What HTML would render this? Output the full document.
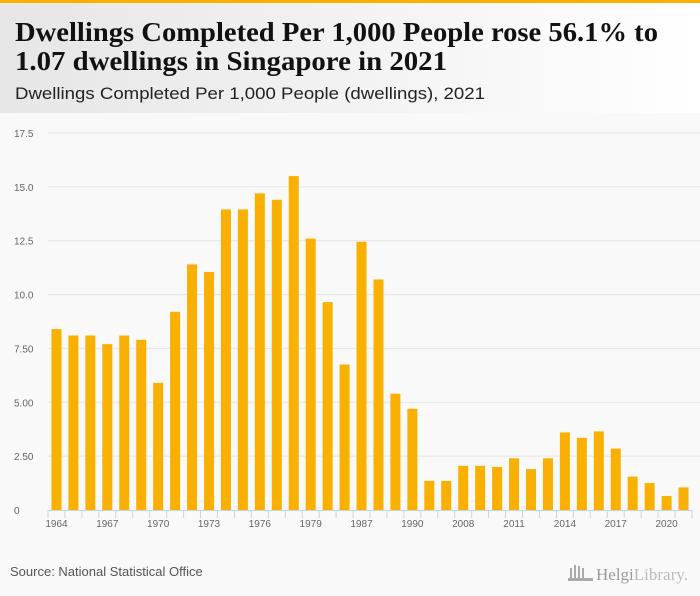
<!DOCTYPE html>
<html><head><meta charset="utf-8"><style>
html,body{margin:0;padding:0;width:700px;height:596px;overflow:hidden;background:#f9f9f9;font-family:"Liberation Sans",sans-serif}
</style></head><body>
<svg width="700" height="596" xmlns="http://www.w3.org/2000/svg">
<defs><linearGradient id="hg" x1="0" x2="1"><stop offset="0" stop-color="#e6e6e6"/><stop offset="1" stop-color="#ffffff"/></linearGradient></defs>
<rect x="0" y="0" width="700" height="113" fill="url(#hg)"/>
<rect x="0" y="0" width="700" height="3" fill="#f9b000"/>
<text x="15" y="41" font-family="Liberation Serif,serif" font-weight="bold" font-size="27" fill="#111" textLength="643" lengthAdjust="spacingAndGlyphs">Dwellings Completed Per 1,000 People rose 56.1% to</text>
<text x="15" y="70" font-family="Liberation Serif,serif" font-weight="bold" font-size="27" fill="#111" textLength="432" lengthAdjust="spacingAndGlyphs">1.07 dwellings in Singapore in 2021</text>
<text x="15" y="99" font-size="17" fill="#222" textLength="470" lengthAdjust="spacingAndGlyphs">Dwellings Completed Per 1,000 People (dwellings), 2021</text>
<g id="grid"></g>
<g id="bars"></g>
<g id="xaxis"></g>
<text x="10" y="576" font-size="13" fill="#555">Source: National Statistical Office</text>
<g fill="#aaa">
<rect x="570" y="568" width="2" height="12"/><rect x="574" y="565" width="2" height="15"/><rect x="578" y="566" width="2" height="14"/><rect x="582" y="568" width="2" height="12"/><rect x="568" y="578" width="25" height="3"/>
<text x="596" y="580" font-family="Liberation Serif,serif" font-size="17" fill="#999">Helgi<tspan fill="#bbb">Library.</tspan></text>
</g>
</svg>
<script>
const categories=[1964,1965,1966,1967,1968,1969,1970,1971,1972,1973,1974,1975,1976,1977,1978,1979,1980,1985,1987,1988,1989,1990,2000,2005,2008,2009,2010,2011,2012,2013,2014,2015,2016,2017,2018,2019,2020,2021];
const values=[8.4,8.1,8.1,7.7,8.1,7.9,5.9,9.2,11.4,11.05,13.95,13.95,14.7,14.4,15.5,12.6,9.65,6.75,12.45,10.7,5.4,4.7,1.35,1.35,2.05,2.05,2.0,2.4,1.9,2.4,3.6,3.35,3.65,2.85,1.55,1.25,0.65,1.05];
const yTicks=[0,2.5,5,7.5,10,12.5,15,17.5];
const yTickLabels=["0","2.50","5.00","7.50","10.0","12.5","15.0","17.5"];
const NS='http://www.w3.org/2000/svg';
const x0=48,x1=692,yBase=510,yTop=133,yMax=17.5;
const step=(x1-x0)/categories.length;
const xs=i=>x0+step*(i+0.5);
const ys=v=>yBase-(v/yMax)*(yBase-yTop);
function mk(tag,attrs,parent){const e=document.createElementNS(NS,tag);for(const k in attrs)e.setAttribute(k,attrs[k]);parent.appendChild(e);return e;}
const grid=document.getElementById('grid'),bars=document.getElementById('bars'),xa=document.getElementById('xaxis');
yTicks.forEach((t,i)=>{
 if(t>0){const l=mk('line',{x1:x0,x2:700,y1:ys(t),y2:ys(t),stroke:'#e4e4e4','stroke-width':1},grid);
 
 }
 const tx=mk('text',{x:14,y:ys(t)+4,'font-size':10,fill:'#666'},grid);
 tx.textContent=yTickLabels[i];
 
 
});
values.forEach((v,i)=>{
 const r=mk('rect',{x:xs(i)-5,y:ys(v),width:10,height:yBase-ys(v),fill:'#f9b000'},bars);
 
 
});
const ax=mk('line',{x1:x0,x2:x1,y1:yBase+0.5,y2:yBase+0.5,stroke:'#c8d2e6','stroke-width':1},xa);


for(let i=0;i<=categories.length;i++){
 const tk=mk('line',{x1:x0+step*i,x2:x0+step*i,y1:yBase,y2:yBase+8,stroke:'#c8d2e6'},xa);
 
 
}
categories.forEach((c,i)=>{
 if(i%3!==0)return;
 const t=mk('text',{x:xs(i),y:yBase+17,'font-size':10,fill:'#666','text-anchor':'middle'},xa);
 t.textContent=c;
 
 
});
</script>
</body></html>
